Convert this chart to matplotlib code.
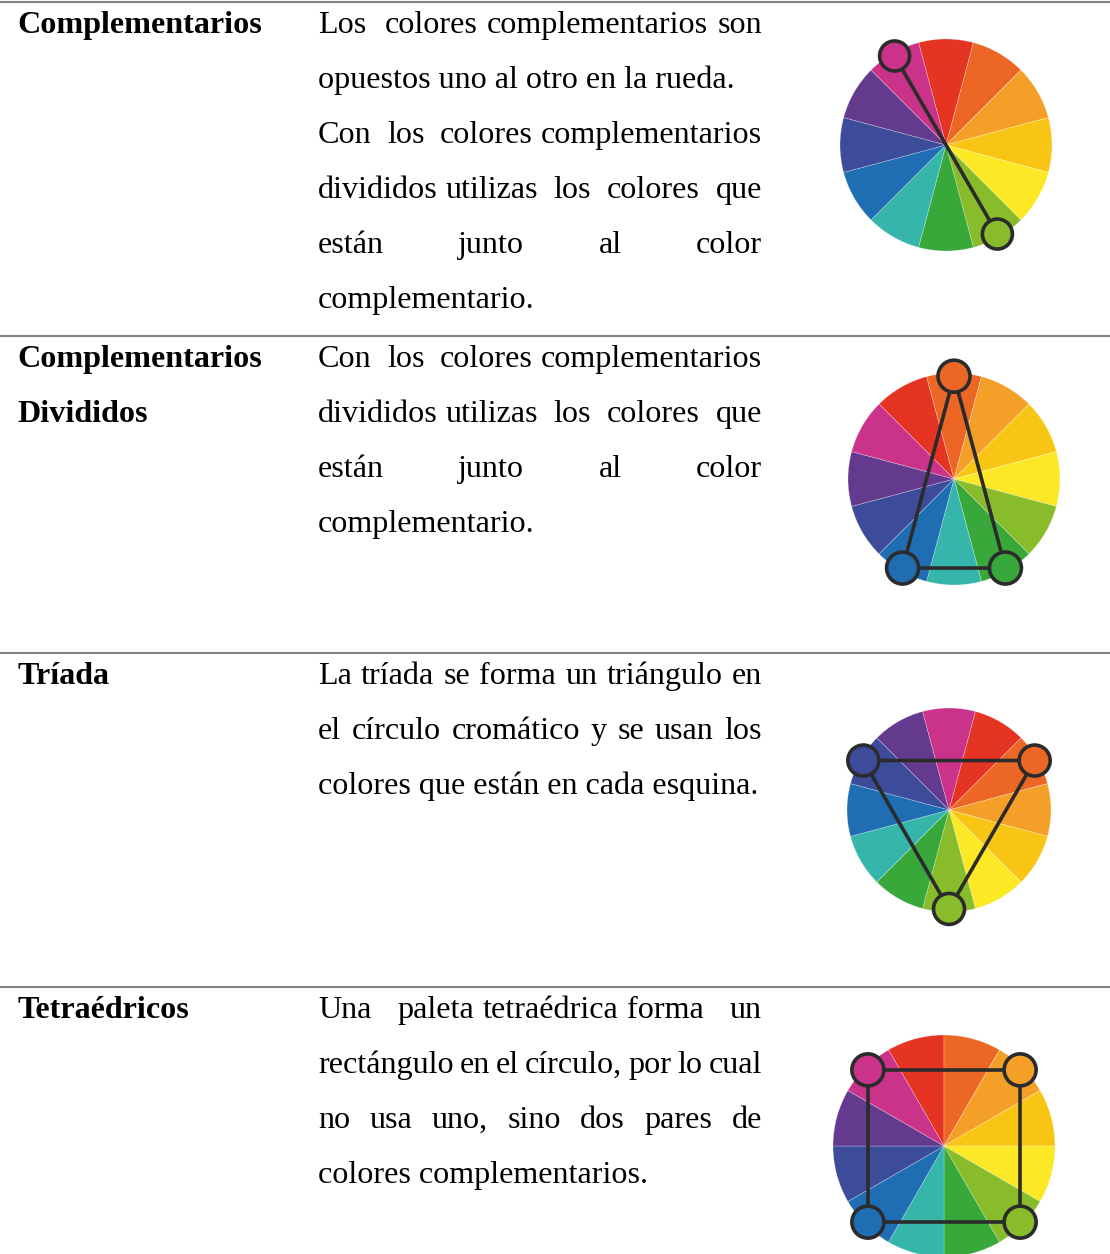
import matplotlib
matplotlib.use("Agg")
import matplotlib.pyplot as plt
from matplotlib.patches import Wedge, Circle
import numpy as np

# ---------------- data ----------------
labels = [["Complementarios"], ["Complementarios", "Divididos"], ["Tríada"], ["Tetraédricos"]]

# each line: (text, justified?)
descriptions = [
    [("Los  colores complementarios son", True),
     ("opuestos uno al otro en la rueda.", False),
     ("Con  los  colores complementarios", True),
     ("divididos utilizas  los  colores  que", True),
     ("están junto al color", True),
     ("complementario.", False)],
    [("Con  los  colores complementarios", True),
     ("divididos utilizas  los  colores  que", True),
     ("están junto al color", True),
     ("complementario.", False)],
    [("La tríada se forma un triángulo en", True),
     ("el círculo cromático y se usan los", True),
     ("colores que están en cada esquina.", False)],
    [("Una   paleta tetraédrica forma   un", True),
     ("rectángulo en el círculo, por lo cual", True),
     ("no  usa  uno,  sino  dos  pares  de", True),
     ("colores complementarios.", False)],
]

# colour wheel, clockwise starting from red
wheel_colors = ["#E53422", "#EC6625", "#F4A028", "#F9C515", "#FCE824", "#89BC2A",
                "#38A83A", "#36B5AB", "#1F6EB4", "#3C4C9B", "#633A8E", "#CB338B"]
# angle (deg) of the centre of the red slice in each wheel
red_angles = [90, 120, 60, 105]
# selected colour indices per scheme
schemes = [[11, 5], [1, 6, 8], [1, 5, 9], [11, 2, 5, 8]]
closed = [False, True, True, True]

# ---------------- layout ----------------
W, H = 1110, 1254
row_tops = [2, 336, 653, 987]
wheel_centers = [(946, 145), (954, 479), (949, 810), (944, 1146)]
wheel_radii = [106, 106, 102, 111]
marker_r = [15, 16, 15.5, 16]
text_left, text_right = 318, 762
label_left = 17
line_h = 55
base_off = 31
fs = 23.1
font = ["Liberation Serif", "DejaVu Serif"]

fig = plt.figure(figsize=(W / 100, H / 100), dpi=100)
ax = fig.add_axes([0, 0, 1, 1])
ax.set_xlim(0, W)
ax.set_ylim(H, 0)
ax.axis("off")
renderer = fig.canvas.get_renderer()

for y in row_tops:
    ax.plot([0, W], [y, y], color="#808080", lw=1.5, solid_capstyle="butt")


def word_width(w):
    t = ax.text(0, 0, w, fontsize=fs, family=font)
    bb = t.get_window_extent(renderer)
    t.remove()
    return bb.width


for r, top in enumerate(row_tops):
    for i, lab in enumerate(labels[r]):
        ax.text(label_left, top + base_off + i * line_h, lab, fontsize=fs,
                family=font, fontweight="bold", va="baseline", ha="left")
    for i, (line, just) in enumerate(descriptions[r]):
        yb = top + base_off + i * line_h
        if not just:
            ax.text(text_left, yb, line, fontsize=fs, family=font,
                    va="baseline", ha="left")
            continue
        tokens = line.split(" ")
        words, gaps = [], []
        cnt = 0
        for tk in tokens:
            if tk == "":
                cnt += 1
                continue
            if words:
                gaps.append(cnt)
            words.append(tk)
            cnt = 1
        widths = [word_width(w) for w in words]
        nsp = sum(gaps)
        sp = (text_right - text_left - sum(widths)) / nsp
        x = text_left
        for j, w in enumerate(words):
            ax.text(x, yb, w, fontsize=fs, family=font, va="baseline", ha="left")
            x += widths[j]
            if j < len(gaps):
                x += gaps[j] * sp

# ---------------- wheels ----------------
for k in range(4):
    cx, cy = wheel_centers[k]
    R = wheel_radii[k]
    a0 = red_angles[k]
    for i, c in enumerate(wheel_colors):
        ang = a0 - 30 * i
        a, b = ang - 15, ang + 15
        ax.add_patch(Wedge((cx, cy), R, -b, -a, facecolor=c,
                           edgecolor=(1, 1, 1, 0.35), lw=0.5, zorder=2))
    pts = []
    for idx in schemes[k]:
        ang = np.deg2rad(a0 - 30 * idx)
        rr = 0.97 * R
        pts.append((cx + rr * np.cos(ang), cy - rr * np.sin(ang)))
    xs = [p[0] for p in pts]
    ys = [p[1] for p in pts]
    if closed[k]:
        xs.append(xs[0]); ys.append(ys[0])
    ax.plot(xs, ys, color="#2B2B2B", lw=2.6, zorder=3, solid_joinstyle="round")
    for idx, p in zip(schemes[k], pts):
        ax.add_patch(Circle(p, marker_r[k], facecolor=wheel_colors[idx],
                            edgecolor="#2B2B2B", lw=2.6, zorder=4))

fig.savefig("out.png", dpi=100)
